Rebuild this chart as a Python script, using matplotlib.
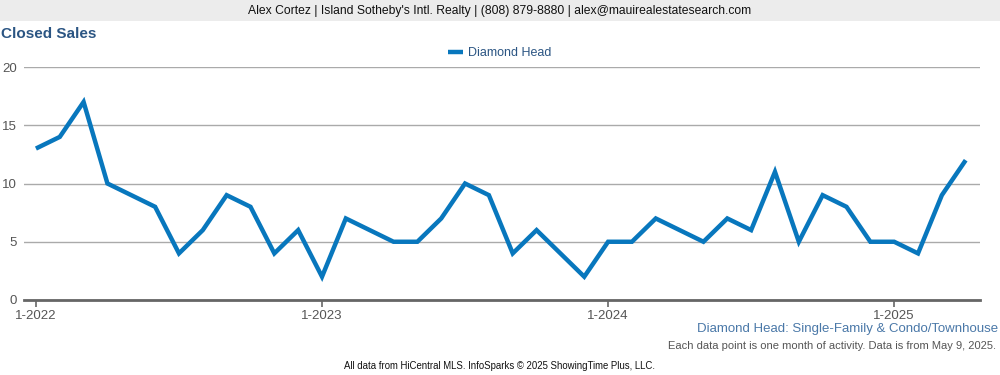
import matplotlib
matplotlib.use("Agg")
import matplotlib.pyplot as plt
from matplotlib.patches import Rectangle

plt.rcParams['font.family'] = ['Liberation Sans', 'DejaVu Sans']

months = list(range(40))  # Jan 2022 .. Apr 2025
sales = [13, 14, 17, 10, 9, 8, 4, 6, 9, 8, 4, 6,
         2, 7, 6, 5, 5, 7, 10, 9, 4, 6, 4, 2,
         5, 5, 7, 6, 5, 7, 6, 11, 5, 9, 8, 5,
         5, 4, 9, 12]
tick_pos = [0, 12, 24, 36]
tick_labels = ['1-2022', '1-2023', '1-2024', '1-2025']
y_ticks = [0, 5, 10, 15, 20]

fig = plt.figure(figsize=(10, 3.75), dpi=100)
fig.patch.set_facecolor('white')

# header band
fig.patches.append(Rectangle((0, 1 - 21/375), 1, 21/375, transform=fig.transFigure,
                             facecolor='#ececec', edgecolor='none', zorder=0))
fig.text(0.5, 1 - 11/375, "Alex Cortez | Island Sotheby's Intl. Realty | (808) 879-8880 | alex@mauirealestatesearch.com",
         ha='center', va='center', fontsize=8.75, color='#111111')
fig.text(0.001, 1 - 34/375, "Closed Sales", ha='left', va='center', fontsize=11,
         fontweight='bold', color='#2b5583')

ax = fig.add_axes([0.024, 0.2, 0.956, 0.6213])
ax.plot(months, sales, color='#0877bd', linewidth=3.2, solid_joinstyle='miter',
        solid_capstyle='butt', label='Diamond Head', zorder=3)
ax.set_xlim(-0.5, 39.6)
ax.set_ylim(0, 20)
ax.set_yticks(y_ticks)
ax.set_yticklabels([str(v) for v in y_ticks])
ax.set_xticks(tick_pos)
ax.set_xticklabels(tick_labels)
ax.grid(axis='y', color='#aaaaaa', linewidth=1)
ax.set_axisbelow(True)
for s in ['top', 'right', 'left']:
    ax.spines[s].set_visible(False)
ax.spines['bottom'].set_color('#666666')
ax.spines['bottom'].set_linewidth(2)
ax.tick_params(axis='y', length=0, pad=5, labelsize=9.5, labelcolor='#555555')
ax.tick_params(axis='x', length=5, width=1.2, color='#666666', pad=2, labelsize=9.5, labelcolor='#555555')

leg = fig.legend(loc='center', bbox_to_anchor=(0.5, 1 - 53/375), frameon=False,
                 fontsize=9, handlelength=1.2, handletextpad=0.4)
for t in leg.get_texts():
    t.set_color('#2b5583')

fig.text(0.998, 1 - 329/375, "Diamond Head: Single-Family & Condo/Townhouse", ha='right', va='center',
         fontsize=9.5, color='#4a78a8')
fig.text(0.996, 1 - 346/375, "Each data point is one month of activity. Data is from May 9, 2025.",
         ha='right', va='center', fontsize=8, color='#555555')
fig.text(0.5, 1 - 366/375, "All data from HiCentral MLS. InfoSparks \u00a9 2025 ShowingTime Plus, LLC.",
         ha='center', va='center', fontsize=6.9, color='#111111')

fig.savefig('out.png', dpi=100)
